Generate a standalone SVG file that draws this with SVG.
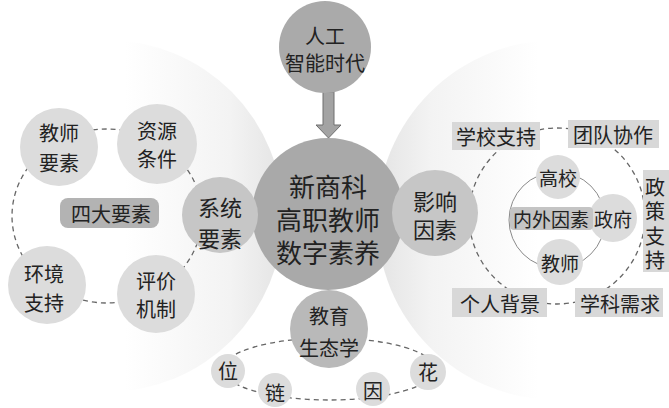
<svg xmlns="http://www.w3.org/2000/svg" width="669" height="408" viewBox="0 0 669 408">
<defs>
<linearGradient id="gl" x1="0" y1="0" x2="1" y2="0">
<stop offset="0" stop-color="#ffffff"/>
<stop offset="0.55" stop-color="#ffffff"/>
<stop offset="0.85" stop-color="#f3f3f3"/>
<stop offset="1" stop-color="#e4e4e4"/>
</linearGradient>
<linearGradient id="gr" x1="0" y1="0" x2="1" y2="0">
<stop offset="0" stop-color="#e4e4e4"/>
<stop offset="0.15" stop-color="#f3f3f3"/>
<stop offset="0.45" stop-color="#ffffff"/>
<stop offset="1" stop-color="#ffffff"/>
</linearGradient>
<style>
text{font-family:"Noto Sans CJK SC","Noto Sans CJK JP",sans-serif;fill:#222;text-anchor:middle;dominant-baseline:central}
.t20{font-size:20px}
.t19{font-size:19px}
.t22{font-size:22px}
.t26{font-size:26px}
.vert{writing-mode:vertical-rl;glyph-orientation-vertical:0;letter-spacing:4.5px}
.dash{fill:none;stroke:#666;stroke-width:1.3;stroke-dasharray:5 4}
.light{fill:#dcdcdc}
.mid{fill:#c6c6c6}
.dark{fill:#aaaaaa}
.box{fill:#d8d8d8}
</style>
</defs>
<rect width="669" height="408" fill="#ffffff"/>
<g id="backgrounds">
<circle cx="107" cy="216" r="176" fill="url(#gl)"/>
<circle cx="557" cy="220" r="180" fill="url(#gr)"/>
</g>
<g id="connectors">
<ellipse class="dash" cx="107" cy="216" rx="95" ry="87"/>
<circle class="dash" cx="557" cy="216" r="88"/>
<circle cx="557" cy="220" r="48" fill="none" stroke="#8a8a8a" stroke-width="1"/>
<ellipse class="dash" cx="329" cy="369" rx="106" ry="31"/>
<path d="M323,92 L334,92 L334,125 L341,125 L328.5,138 L316,125 L323,125 Z" fill="#a3a3a3" stroke="#6e6e6e" stroke-width="1"/>
</g>
<g id="node-ai">
<circle class="dark" cx="325" cy="47" r="46"/>
<text class="t20"><tspan x="325" y="35">人工</tspan><tspan x="325" y="62">智能时代</tspan></text>
</g>
<g id="node-center">
<circle fill="#a9a9a9" cx="328" cy="214" r="76"/>
<text class="t26"><tspan x="328" y="185">新商科</tspan><tspan x="328" y="218">高职教师</tspan><tspan x="328" y="251">数字素养</tspan></text>
</g>
<g id="node-system">
<circle class="mid" cx="220" cy="215" r="38"/>
<text class="t22"><tspan x="220" y="206">系统</tspan><tspan x="220" y="237">要素</tspan></text>
</g>
<g id="node-influence">
<circle class="mid" cx="435" cy="213" r="43"/>
<text class="t22"><tspan x="435" y="200">影响</tspan><tspan x="435" y="228">因素</tspan></text>
</g>
<g id="node-teacher-elem">
<circle class="light" cx="59" cy="147" r="39"/>
<text class="t20"><tspan x="59" y="132">教师</tspan><tspan x="59" y="162">要素</tspan></text>
</g>
<g id="node-resource">
<circle class="light" cx="157" cy="144" r="40"/>
<text class="t20"><tspan x="157" y="130">资源</tspan><tspan x="157" y="158">条件</tspan></text>
</g>
<g id="node-env">
<circle class="light" cx="47" cy="285" r="39"/>
<text class="t20"><tspan x="44" y="273">环境</tspan><tspan x="44" y="302">支持</tspan></text>
</g>
<g id="node-eval">
<circle class="light" cx="156" cy="294" r="39"/>
<text class="t20"><tspan x="156" y="280">评价</tspan><tspan x="156" y="308">机制</tspan></text>
</g>
<g id="node-four">
<rect x="60" y="198" width="99" height="30" rx="8" fill="#b3b3b3"/>
<text class="t20" x="111" y="213">四大要素</text>
</g>
<g id="node-school-support">
<rect class="box" x="452" y="122" width="88" height="28"/>
<text class="t20" x="496" y="136">学校支持</text>
</g>
<g id="node-team">
<rect class="box" x="568" y="120" width="91" height="28"/>
<text class="t20" x="613" y="134">团队协作</text>
</g>
<g id="node-policy">
<rect class="box" x="643" y="170" width="26" height="102"/>
<text class="t20 vert" x="655" y="226">政策支持</text>
</g>
<g id="node-personal">
<rect class="box" x="452" y="288" width="95" height="29"/>
<text class="t20" x="500" y="303">个人背景</text>
</g>
<g id="node-discipline">
<rect class="box" x="575" y="288" width="88" height="29"/>
<text class="t20" x="620" y="303">学科需求</text>
</g>
<g id="node-college">
<circle class="light" cx="558" cy="177" r="22"/>
<text class="t19" x="558" y="177">高校</text>
</g>
<g id="node-gov">
<circle class="light" cx="613" cy="218" r="24"/>
<text class="t19" x="613" y="218">政府</text>
</g>
<g id="node-teacher">
<circle class="light" cx="560" cy="262" r="23"/>
<text class="t19" x="560" y="262">教师</text>
</g>
<g id="node-inout">
<rect x="510" y="207" width="83" height="23" rx="4" fill="#c4c4c4"/>
<text class="t19" x="551" y="218">内外因素</text>
</g>
<g id="node-ecology">
<circle fill="#b9b9b9" cx="329" cy="329" r="39"/>
<text class="t20"><tspan x="329" y="315">教育</tspan><tspan x="329" y="347">生态学</tspan></text>
</g>
<g id="node-wei">
<circle class="light" cx="228" cy="371" r="17"/>
<text class="t20" x="228" y="370">位</text>
</g>
<g id="node-lian">
<circle class="light" cx="275" cy="390" r="17"/>
<text class="t20" x="275" y="392">链</text>
</g>
<g id="node-yin">
<circle class="light" cx="373" cy="389" r="17"/>
<text class="t20" x="373" y="390">因</text>
</g>
<g id="node-hua">
<circle class="light" cx="428" cy="372" r="18"/>
<text class="t20" x="428" y="371">花</text>
</g>
</svg>
